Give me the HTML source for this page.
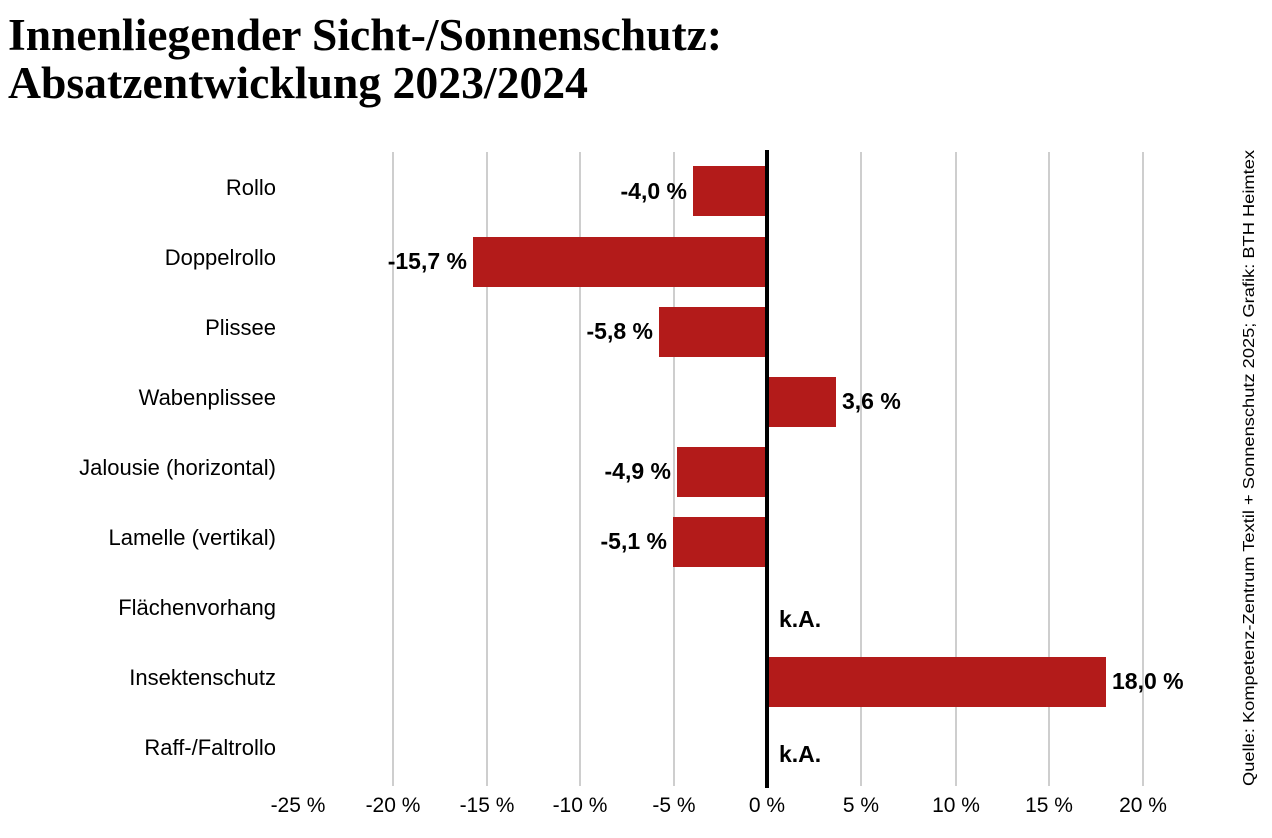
<!DOCTYPE html>
<html><head><meta charset="utf-8"><style>body{margin:0;background:#fff}svg{display:block}</style></head>
<body>
<svg width="1272" height="838" xmlns="http://www.w3.org/2000/svg" font-family="Liberation Sans, sans-serif">
<rect width="1272" height="838" fill="#fff"/>
<text x="8" y="50" font-family="Liberation Serif, serif" font-weight="bold" font-size="45" textLength="714" lengthAdjust="spacingAndGlyphs">Innenliegender Sicht-/Sonnenschutz:</text>
<text x="8" y="98" font-family="Liberation Serif, serif" font-weight="bold" font-size="45" textLength="580" lengthAdjust="spacingAndGlyphs">Absatzentwicklung 2023/2024</text>
<g stroke="#bdbdbd" stroke-width="1.5">
<line x1="393" y1="152" x2="393" y2="786"/><line x1="487" y1="152" x2="487" y2="786"/>
<line x1="580" y1="152" x2="580" y2="786"/><line x1="674" y1="152" x2="674" y2="786"/>
<line x1="861" y1="152" x2="861" y2="786"/><line x1="956" y1="152" x2="956" y2="786"/>
<line x1="1049" y1="152" x2="1049" y2="786"/><line x1="1143" y1="152" x2="1143" y2="786"/>
</g>
<g fill="#b31b1a">
<rect x="693" y="166" width="74" height="50"/>
<rect x="473" y="237" width="294" height="50"/>
<rect x="659" y="307" width="108" height="50"/>
<rect x="767" y="377" width="69" height="50"/>
<rect x="677" y="447" width="90" height="50"/>
<rect x="673" y="517" width="94" height="50"/>
<rect x="767" y="657" width="339" height="50"/>
</g>
<line x1="767" y1="150" x2="767" y2="788" stroke="#000" stroke-width="4"/>
<g font-size="22" text-anchor="end">
<text x="276" y="195">Rollo</text><text x="276" y="265">Doppelrollo</text>
<text x="276" y="335">Plissee</text><text x="276" y="405">Wabenplissee</text>
<text x="276" y="475">Jalousie (horizontal)</text><text x="276" y="545">Lamelle (vertikal)</text>
<text x="276" y="615">Flächenvorhang</text><text x="276" y="685">Insektenschutz</text>
<text x="276" y="755">Raff-/Faltrollo</text>
</g>
<g font-size="23" font-weight="bold">
<text x="687" y="199" text-anchor="end">-4,0 %</text>
<text x="467" y="269" text-anchor="end">-15,7 %</text>
<text x="653" y="339" text-anchor="end">-5,8 %</text>
<text x="842" y="409">3,6 %</text>
<text x="671" y="479" text-anchor="end">-4,9 %</text>
<text x="667" y="549" text-anchor="end">-5,1 %</text>
<text x="779" y="627">k.A.</text>
<text x="1112" y="689">18,0 %</text>
<text x="779" y="762">k.A.</text>
</g>
<g font-size="21" text-anchor="middle">
<text x="298" y="812">-25 %</text><text x="393" y="812">-20 %</text><text x="487" y="812">-15 %</text>
<text x="580" y="812">-10 %</text><text x="674" y="812">-5 %</text><text x="767" y="812">0 %</text>
<text x="861" y="812">5 %</text><text x="956" y="812">10 %</text><text x="1049" y="812">15 %</text>
<text x="1143" y="812">20 %</text>
</g>
<text transform="translate(1254,468) rotate(-90)" font-size="16" text-anchor="middle" textLength="636" lengthAdjust="spacingAndGlyphs">Quelle: Kompetenz-Zentrum Textil + Sonnenschutz 2025; Grafik: BTH Heimtex</text>
</svg>
</body></html>
